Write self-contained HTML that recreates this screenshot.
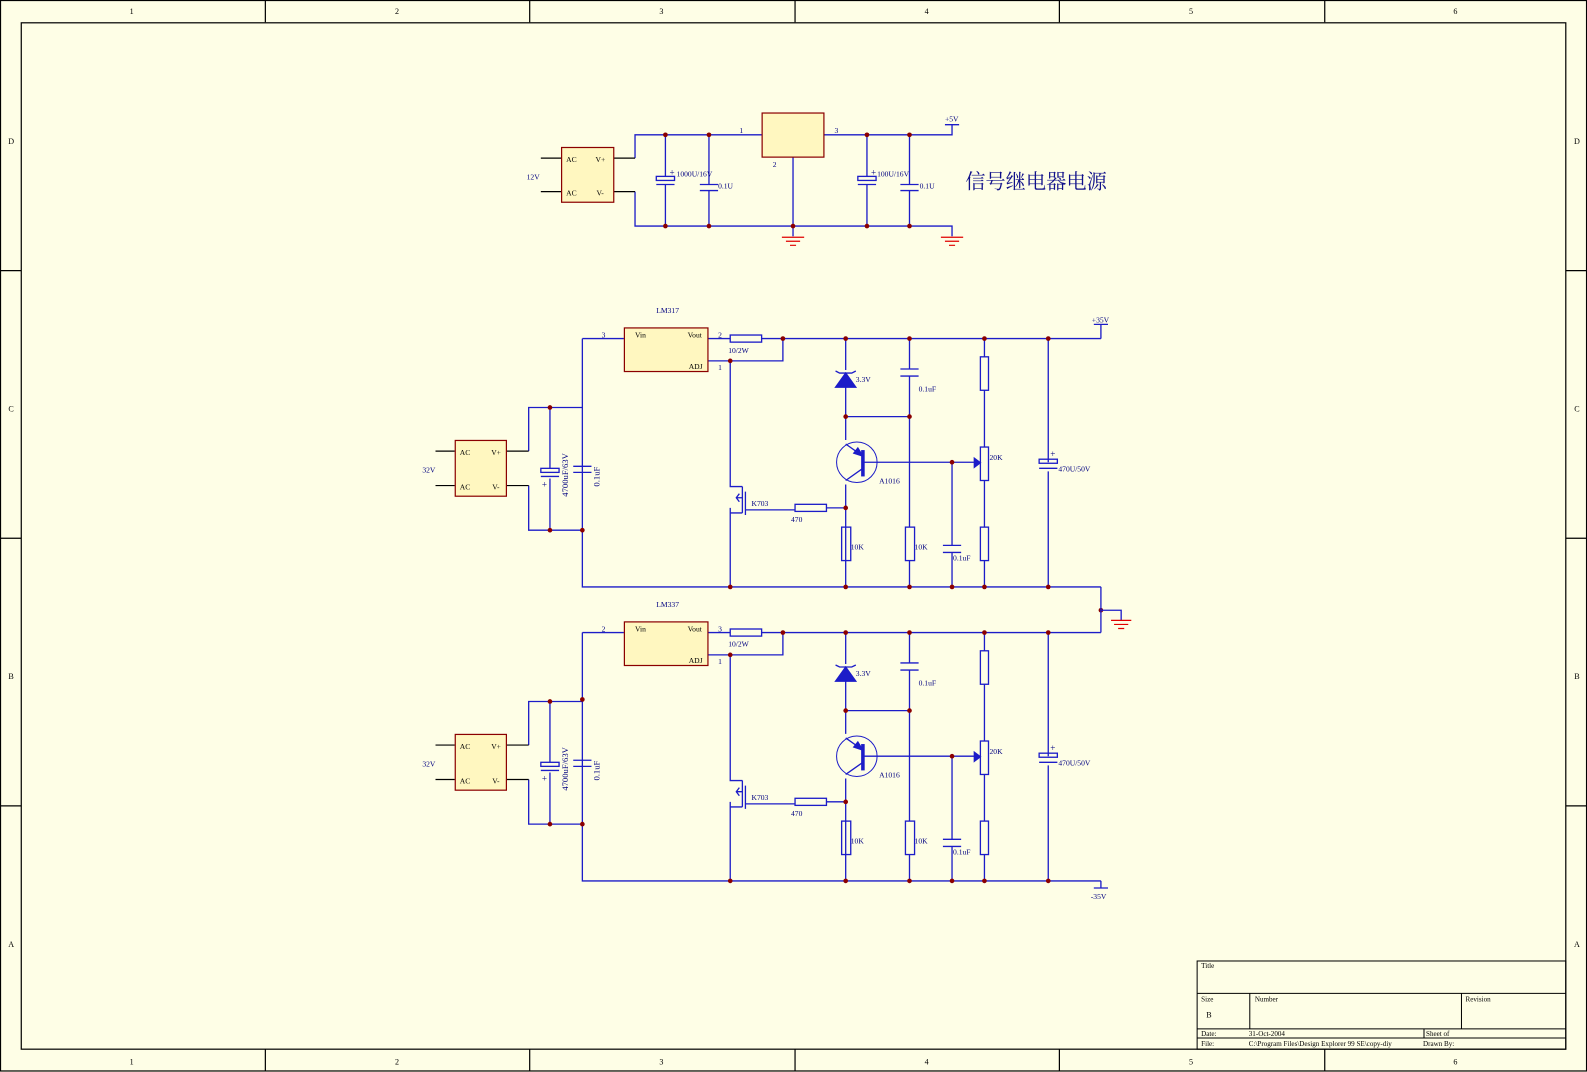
<!DOCTYPE html>
<html><head><meta charset="utf-8"><style>
html,body{margin:0;padding:0;background:#fefee6;}
svg{display:block;}
text{font-family:"Liberation Serif","Noto Serif CJK SC",serif;}
</style></head><body>
<svg width="1587" height="1072" viewBox="0 0 1587 1072" xmlns="http://www.w3.org/2000/svg">
<rect width="1587" height="1072" fill="#fefee6"/>
<g transform="scale(1.0128,1.0137)">
<!-- frame -->
<g fill="none" stroke="#000" stroke-width="1.2">
<rect x="0.5" y="0.5" width="1566" height="1056"/>
<rect x="21" y="22.5" width="1525" height="1012.5"/>
<path d="M262 0V22M523 0V22M785 0V22M1046 0V22M1308 0V22M262 1035V1057M523 1035V1057M785 1035V1057M1046 1035V1057M1308 1035V1057M0 267H21M0 531H21M0 795H21M1546 267H1567M1546 531H1567M1546 795H1567"/>
</g>
<g font-size="8" fill="#000" text-anchor="middle">
<text x="130" y="14">1</text><text x="392" y="14">2</text><text x="653" y="14">3</text><text x="915" y="14">4</text><text x="1176" y="14">5</text><text x="1437" y="14">6</text>
<text x="130" y="1050">1</text><text x="392" y="1050">2</text><text x="653" y="1050">3</text><text x="915" y="1050">4</text><text x="1176" y="1050">5</text><text x="1437" y="1050">6</text>
<text x="11" y="142">D</text><text x="11" y="406">C</text><text x="11" y="670">B</text><text x="11" y="934">A</text>
<text x="1557" y="142">D</text><text x="1557" y="406">C</text><text x="1557" y="670">B</text><text x="1557" y="934">A</text>
</g>
<!-- title block -->
<g fill="none" stroke="#000" stroke-width="1">
<rect x="1182" y="948" width="364" height="87"/>
<path d="M1182 980H1546M1182 1015H1546M1182 1024H1546M1234 980V1015M1443 980V1015M1406 1015V1024"/>
</g>
<g font-size="7" fill="#000">
<text x="1186" y="955">Title</text><text x="1186" y="988">Size</text><text x="1191" y="1004" font-size="8">B</text>
<text x="1239" y="988">Number</text><text x="1447" y="988">Revision</text>
<text x="1186" y="1022">Date:</text><text x="1233" y="1022">31-Oct-2004</text><text x="1408" y="1022">Sheet  of</text>
<text x="1186" y="1032">File:</text><text x="1233" y="1032">C:\Program Files\Design Explorer 99 SE\copy-diy</text><text x="1405" y="1032">Drawn By:</text>
</g>

<!-- TOP CIRCUIT -->
<g fill="none" stroke="#1c1cc8" stroke-width="1.3">
<path d="M627 156V133H752M813 133H940V123M933 123H947M627 189V223H940V233M783 155V233"/>
<path d="M657 133V174M657 182V223M700 133V182M700 188V223M856 133V174M856 182V223M898 133V182M898 188V223"/>
<rect x="648" y="174" width="18" height="4"/><path d="M648 182H666M691 182H709M691 188H709M847 182H865M889 182H907M889 188H907"/>
<rect x="847" y="174" width="18" height="4"/>
</g>
<path d="M534 156H554M534 189H554M606 156H627M606 189H627" stroke="#000" stroke-width="1.2"/>
<rect x="554.5" y="145.5" width="51.5" height="54" fill="#fff7c0" stroke="#8b0000" stroke-width="1.2"/>
<rect x="752.5" y="111.5" width="61" height="43.5" fill="#fff7c0" stroke="#8b0000" stroke-width="1.2"/>
<g stroke="#e00000" stroke-width="1.2"><path d="M772 234H794M776 238H790M780 242H786M929 234H951M933 238H947M937 242H943"/></g>
<g fill="#8b0000"><circle cx="657" cy="133" r="2.3"/><circle cx="700" cy="133" r="2.3"/><circle cx="657" cy="223" r="2.3"/><circle cx="700" cy="223" r="2.3"/><circle cx="783" cy="223" r="2.3"/><circle cx="856" cy="133" r="2.3"/><circle cx="898" cy="133" r="2.3"/><circle cx="856" cy="223" r="2.3"/><circle cx="898" cy="223" r="2.3"/></g>
<g font-size="7.5" fill="#000"><text x="559" y="160">AC</text><text x="588" y="160">V+</text><text x="559" y="193">AC</text><text x="589" y="193">V-</text></g>
<g font-size="7.5" fill="#000080">
<text x="520" y="177">12V</text><text x="730" y="131">1</text><text x="824" y="131">3</text><text x="763" y="165">2</text>
<text x="933" y="120">+5V</text><text x="668" y="174">1000U/16V</text><text x="709" y="186">0.1U</text><text x="866" y="174">100U/16V</text><text x="908" y="186">0.1U</text>
<text x="661" y="173" font-size="9">+</text><text x="860" y="173" font-size="9">+</text>
</g>
<text x="953" y="186" font-size="20" fill="#10108a" font-family="'Noto Sans CJK SC','WenQuanYi Zen Hei',sans-serif">信号继电器电源</text>

<!-- LM BLOCK geometry -->
<defs>
<g id="blk">
<g fill="none" stroke="#1c1cc8" stroke-width="1.3">
<path d="M575 334H616M575 334V579H1087M522 445V402H575M522 479V523H575M543 402V462M543 472V523M575 402V460M575 466V523"/>
<path d="M699 334H721M752 334H1087M773 334V356H699M721 356V480H733M721 501V579M733 480V506M721 506H733M736 485V508M736 503H785M816 501H835"/>
<path d="M733 491H727M730 487L727 491L730 495"/>
<rect x="721" y="330.5" width="31" height="7"/><rect x="785" y="497.5" width="31" height="7"/>
<rect x="534" y="462" width="18" height="4"/><path d="M534 470H552M566 460H584M566 466H584"/>
<path d="M835 334V365M835 382V434M835 478V579M835 411H898M898 334V364M898 371V520M898 553V579"/>
<path d="M825 366L829 368H841L845 366"/><path d="M825 382H845L835 368Z" fill="#1c1cc8"/>
<circle cx="846" cy="456" r="20" stroke-width="1"/>
<path d="M852 444V470" stroke-width="3.5"/>
<path d="M835 438L852 450M852 462L835 474M852 456H968" />
<path d="M852 450L843 447L847 442Z" fill="#1c1cc8"/>
<path d="M962 452V461L968 456.5Z" fill="#1c1cc8"/>
<rect x="831" y="520" width="9" height="33"/><rect x="894" y="520" width="9" height="33"/>
<path d="M889 364H907M889 371H907M940 456V538M940 545V579M931 538H949M931 545H949"/>
<path d="M972 334V352M972 385V441M972 474V520M972 553V579"/>
<rect x="968" y="352" width="8" height="33"/><rect x="968" y="441" width="8" height="33"/><rect x="968" y="520" width="8" height="33"/>
<path d="M1035 334V456M1035 465V579"/><rect x="1026" y="453" width="18" height="4"/><path d="M1026 462H1044"/>
</g>
<path d="M430 445H449M430 479H449M500 445H522M500 479H522" stroke="#000" stroke-width="1.2"/>
<rect x="449.5" y="434.5" width="50.5" height="55" fill="#fff7c0" stroke="#8b0000" stroke-width="1.2"/>
<rect x="616.5" y="323.5" width="82.5" height="43" fill="#fff7c0" stroke="#8b0000" stroke-width="1.2"/>
<g fill="#8b0000"><circle cx="543" cy="402" r="2.3"/><circle cx="543" cy="523" r="2.3"/><circle cx="575" cy="523" r="2.3"/><circle cx="773" cy="334" r="2.3"/><circle cx="721" cy="356" r="2.3"/><circle cx="721" cy="579" r="2.3"/>
<circle cx="835" cy="334" r="2.3"/><circle cx="898" cy="334" r="2.3"/><circle cx="972" cy="334" r="2.3"/><circle cx="1035" cy="334" r="2.3"/><circle cx="835" cy="411" r="2.3"/><circle cx="898" cy="411" r="2.3"/><circle cx="835" cy="501" r="2.3"/><circle cx="940" cy="456" r="2.3"/>
<circle cx="835" cy="579" r="2.3"/><circle cx="898" cy="579" r="2.3"/><circle cx="940" cy="579" r="2.3"/><circle cx="972" cy="579" r="2.3"/><circle cx="1035" cy="579" r="2.3"/></g>
</g>
</defs>
<use href="#blk"/>
<use href="#blk" y="290"/>
<!-- extra junctions lower -->
<g fill="#8b0000"><circle cx="575" cy="690" r="2.3"/><circle cx="1087" cy="602" r="2.3"/></g>
<!-- right side -->
<g fill="none" stroke="#1c1cc8" stroke-width="1.3"><path d="M1087 334V320M1080 320H1094M1087 579V624M1087 869V876M1080 876H1094M1087 602H1107V612"/></g>
<g stroke="#e00000" stroke-width="1.2"><path d="M1097 612H1117M1100 616H1114M1104 620H1110"/></g>

<!-- block texts -->
<g font-size="7.5" fill="#000">
<text x="454" y="449">AC</text><text x="485" y="449">V+</text><text x="454" y="483">AC</text><text x="486" y="483">V-</text>
<text x="627" y="333">Vin</text><text x="679" y="333">Vout</text><text x="680" y="364">ADJ</text>
<text x="454" y="739">AC</text><text x="485" y="739">V+</text><text x="454" y="773">AC</text><text x="486" y="773">V-</text>
<text x="627" y="623">Vin</text><text x="679" y="623">Vout</text><text x="680" y="654">ADJ</text>
</g>
<g font-size="7.5" fill="#000080">
<text x="648" y="309">LM317</text><text x="594" y="333">3</text><text x="709" y="333">2</text><text x="709" y="365">1</text>
<text x="417" y="466">32V</text><text x="719" y="348">10/2W</text><text x="742" y="499">K703</text><text x="781" y="515">470</text>
<text x="845" y="377">3.3V</text><text x="907" y="386">0.1uF</text><text x="868" y="477">A1016</text><text x="840" y="542">10K</text><text x="903" y="542">10K</text><text x="941" y="553">0.1uF</text><text x="977" y="454">20K</text><text x="1045" y="465">470U/50V</text>
<text x="1078" y="318">+35V</text><text x="1037" y="451" font-size="9">+</text><text x="535" y="481" font-size="9">+</text>
<text transform="translate(561,490) rotate(-90)" font-size="8.5">4700uF/63V</text>
<text transform="translate(592,480) rotate(-90)" font-size="8.5">0.1uF</text>
<text x="648" y="599">LM337</text><text x="594" y="623">2</text><text x="709" y="623">3</text><text x="709" y="655">1</text>
<text x="417" y="756">32V</text><text x="719" y="638">10/2W</text><text x="742" y="789">K703</text><text x="781" y="805">470</text>
<text x="845" y="667">3.3V</text><text x="907" y="676">0.1uF</text><text x="868" y="767">A1016</text><text x="840" y="832">10K</text><text x="903" y="832">10K</text><text x="941" y="843">0.1uF</text><text x="977" y="744">20K</text><text x="1045" y="755">470U/50V</text>
<text x="1077" y="887">-35V</text><text x="1037" y="741" font-size="9">+</text><text x="535" y="771" font-size="9">+</text>
<text transform="translate(561,780) rotate(-90)" font-size="8.5">4700uF/63V</text>
<text transform="translate(592,770) rotate(-90)" font-size="8.5">0.1uF</text>
</g>
</g>
</svg>
</body></html>
